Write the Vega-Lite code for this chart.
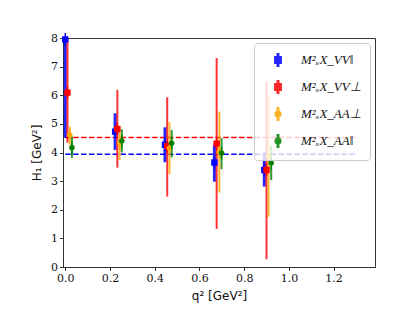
{
  "$schema": "https://vega.github.io/schema/vega-lite/v6.json",
  "width": 312,
  "height": 229,
  "autosize": {"type": "none"},
  "padding": {"left": 63, "top": 38, "right": 45, "bottom": 48},
  "background": "white",
  "config": {
    "view": {"stroke": "#333", "strokeWidth": 1},
    "axis": {
      "grid": false,
      "domainColor": "#333",
      "tickColor": "#333",
      "tickSize": 3.5,
      "labelFont": "DejaVu Serif",
      "labelFontSize": 11,
      "labelColor": "#111",
      "titleFont": "DejaVu Sans",
      "titleFontSize": 12,
      "titleFontWeight": "normal",
      "titleColor": "#111"
    },
    "axisY": {"titleX": -20, "titleY": 114.5, "titleAngle": -90, "titleBaseline": "bottom", "titleAlign": "center"},
    "legend": {
      "title": null,
      "orient": "top-right",
      "offset": 5,
      "padding": 9,
      "rowPadding": 7,
      "symbolOffset": 7,
      "symbolSize": 200,
      "labelOffset": 15,
      "labelFont": "Liberation Serif",
      "labelFontStyle": "italic",
      "labelFontSize": 13,
      "labelColor": "#111",
      "fillColor": "rgba(255,255,255,0.8)",
      "strokeColor": "#cccccc",
      "cornerRadius": 3
    }
  },
  "datasets": {
    "pts": [
      {"s": "M²ₓX_VV‖", "q": 0.0, "v": 7.95, "lo": 4.51, "hi": 9.5},
      {"s": "M²ₓX_VV⊥", "q": 0.01, "v": 6.09, "lo": 4.34, "hi": 9.5},
      {"s": "M²ₓX_AA⊥", "q": 0.02, "v": 4.61, "lo": 4.27, "hi": 4.9},
      {"s": "M²ₓX_AA‖", "q": 0.03, "v": 4.17, "lo": 3.81, "hi": 4.56},
      {"s": "M²ₓX_VV‖", "q": 0.223, "v": 4.73, "lo": 4.09, "hi": 5.37},
      {"s": "M²ₓX_VV⊥", "q": 0.233, "v": 4.82, "lo": 3.47, "hi": 6.19},
      {"s": "M²ₓX_AA⊥", "q": 0.243, "v": 4.33, "lo": 3.74, "hi": 4.9},
      {"s": "M²ₓX_AA‖", "q": 0.253, "v": 4.4, "lo": 4.0, "hi": 4.81},
      {"s": "M²ₓX_VV‖", "q": 0.446, "v": 4.27, "lo": 3.66, "hi": 4.88},
      {"s": "M²ₓX_VV⊥", "q": 0.456, "v": 4.23, "lo": 2.46, "hi": 5.93},
      {"s": "M²ₓX_AA⊥", "q": 0.466, "v": 4.15, "lo": 3.24, "hi": 5.06},
      {"s": "M²ₓX_AA‖", "q": 0.476, "v": 4.32, "lo": 3.83, "hi": 4.79},
      {"s": "M²ₓX_VV‖", "q": 0.667, "v": 3.65, "lo": 2.98, "hi": 4.27},
      {"s": "M²ₓX_VV⊥", "q": 0.677, "v": 4.31, "lo": 1.33, "hi": 7.3},
      {"s": "M²ₓX_AA⊥", "q": 0.689, "v": 4.0, "lo": 2.6, "hi": 5.43},
      {"s": "M²ₓX_AA‖", "q": 0.699, "v": 3.98, "lo": 3.42, "hi": 4.5},
      {"s": "M²ₓX_VV‖", "q": 0.89, "v": 3.39, "lo": 2.81, "hi": 4.0},
      {"s": "M²ₓX_VV⊥", "q": 0.9, "v": 3.39, "lo": 0.27, "hi": 6.48},
      {"s": "M²ₓX_AA⊥", "q": 0.909, "v": 3.86, "lo": 1.76, "hi": 5.95},
      {"s": "M²ₓX_AA‖", "q": 0.921, "v": 3.63, "lo": 3.04, "hi": 4.23}
    ],
    "fits": [
      {"s": "VV⊥", "v": 4.52, "q0": 0.0, "q1": 1.3},
      {"s": "VV‖", "v": 3.94, "q0": 0.0, "q1": 1.3}
    ]
  },
  "layer": [
    {
      "data": {"name": "fits"},
      "transform": [{"filter": "datum.s === 'VV⊥'"}],
      "mark": {"type": "rule", "color": "#ff0000", "strokeWidth": 1.5, "strokeDash": [5.5, 2.4]},
      "encoding": {
        "x": {
          "field": "q0", "type": "quantitative",
          "scale": {"domain": [-0.01, 1.385], "nice": false, "zero": false},
          "axis": {"values": [0, 0.2, 0.4, 0.6, 0.8, 1.0, 1.2], "format": ".1f", "title": "q² [GeV²]", "labelPadding": 2, "titlePadding": 7}
        },
        "x2": {"field": "q1"},
        "y": {
          "field": "v", "type": "quantitative",
          "scale": {"domain": [0, 8], "nice": false},
          "axis": {"values": [0, 1, 2, 3, 4, 5, 6, 7, 8], "title": "H₁ [GeV²]", "labelPadding": 2}
        }
      }
    },
    {
      "data": {"name": "fits"},
      "transform": [{"filter": "datum.s === 'VV‖'"}],
      "mark": {"type": "rule", "color": "#0000ff", "strokeWidth": 1.5, "strokeDash": [5.5, 2.4]},
      "encoding": {
        "x": {"field": "q0", "type": "quantitative",
          "axis": {"values": [0, 0.2, 0.4, 0.6, 0.8, 1.0, 1.2], "format": ".1f", "title": "q² [GeV²]", "labelPadding": 2, "titlePadding": 7}},
        "x2": {"field": "q1"},
        "y": {"field": "v", "type": "quantitative",
          "axis": {"values": [0, 1, 2, 3, 4, 5, 6, 7, 8], "title": "H₁ [GeV²]", "labelPadding": 2}}
      }
    },
    {
      "data": {"name": "pts"},
      "transform": [{"filter": "datum.s === 'M²ₓX_VV‖'"}],
      "mark": {"type": "rule", "clip": true, "opacity": 0.85, "strokeWidth": 3},
      "encoding": {
        "x": {"field": "q", "type": "quantitative",
          "axis": {"values": [0, 0.2, 0.4, 0.6, 0.8, 1.0, 1.2], "format": ".1f", "title": "q² [GeV²]", "labelPadding": 2, "titlePadding": 7}},
        "y": {"field": "lo", "type": "quantitative",
          "axis": {"values": [0, 1, 2, 3, 4, 5, 6, 7, 8], "title": "H₁ [GeV²]", "labelPadding": 2}},
        "y2": {"field": "hi"},
        "color": {"field": "s", "type": "nominal"}
      }
    },
    {
      "data": {"name": "pts"},
      "transform": [{"filter": "datum.s !== 'M²ₓX_VV‖'"}],
      "mark": {"type": "rule", "clip": true, "opacity": 0.8, "strokeWidth": 2},
      "encoding": {
        "x": {"field": "q", "type": "quantitative",
          "axis": {"values": [0, 0.2, 0.4, 0.6, 0.8, 1.0, 1.2], "format": ".1f", "title": "q² [GeV²]", "labelPadding": 2, "titlePadding": 7}},
        "y": {"field": "lo", "type": "quantitative",
          "axis": {"values": [0, 1, 2, 3, 4, 5, 6, 7, 8], "title": "H₁ [GeV²]", "labelPadding": 2}},
        "y2": {"field": "hi"},
        "color": {"field": "s", "type": "nominal"}
      }
    },
    {
      "data": {"name": "pts"},
      "mark": {"type": "point", "filled": true, "opacity": 1, "size": 200},
      "encoding": {
        "x": {"field": "q", "type": "quantitative",
          "axis": {"values": [0, 0.2, 0.4, 0.6, 0.8, 1.0, 1.2], "format": ".1f", "title": "q² [GeV²]", "labelPadding": 2, "titlePadding": 7}},
        "y": {"field": "v", "type": "quantitative",
          "axis": {"values": [0, 1, 2, 3, 4, 5, 6, 7, 8], "title": "H₁ [GeV²]", "labelPadding": 2}},
        "color": {
          "field": "s", "type": "nominal",
          "scale": {"domain": ["M²ₓX_VV‖", "M²ₓX_VV⊥", "M²ₓX_AA⊥", "M²ₓX_AA‖"], "range": ["#0000ff", "#ff0000", "#ffa500", "#008000"]}
        },
        "shape": {
          "field": "s", "type": "nominal",
          "scale": {
            "domain": ["M²ₓX_VV‖", "M²ₓX_VV⊥", "M²ₓX_AA⊥", "M²ₓX_AA‖"],
            "range": [
              "M-0.45,-0.45H0.45V0.45H-0.45Z M-0.1,-0.9H0.1V0.9H-0.1Z",
              "M-0.45,-0.45H0.45V0.45H-0.45Z M-0.1,-0.9H0.1V0.9H-0.1Z",
              "M0.4,0A0.4,0.4 0 1,1 -0.4,0A0.4,0.4 0 1,1 0.4,0Z M-0.1,-0.9H0.1V0.9H-0.1Z",
              "M0.4,0A0.4,0.4 0 1,1 -0.4,0A0.4,0.4 0 1,1 0.4,0Z M-0.1,-0.9H0.1V0.9H-0.1Z"
            ]
          }
        }
      }
    }
  ]
}
